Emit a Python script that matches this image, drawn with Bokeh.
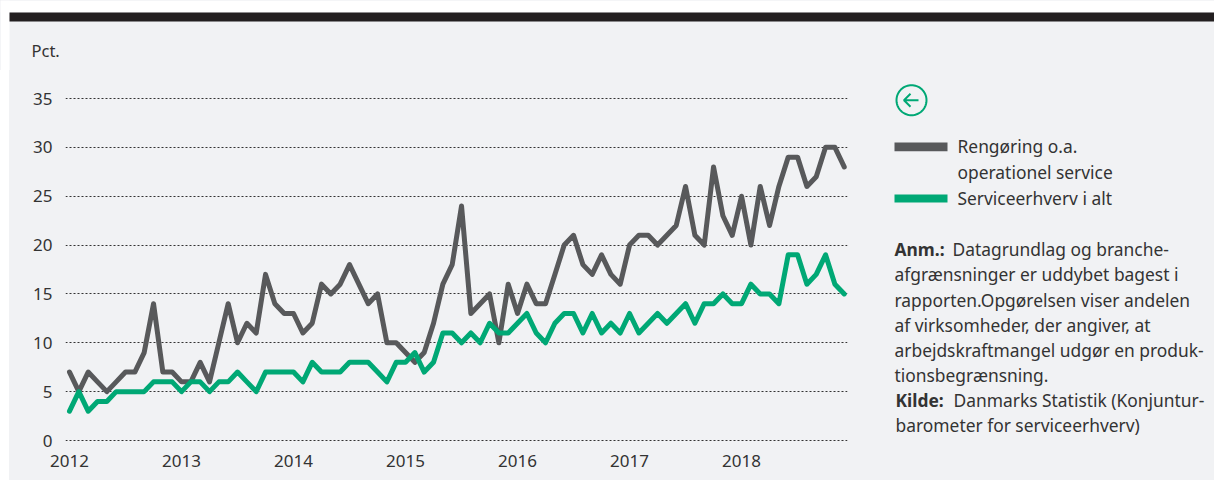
from math import cos, sin, pi
from bokeh.embed import file_html
from bokeh.resources import INLINE
from bokeh.plotting import figure
from bokeh.layouts import column, row
from bokeh.models import BoxAnnotation, Label, PolyAnnotation, FixedTicker, Range1d, Spacer

years = ["2012", "2013", "2014", "2015", "2016", "2017", "2018"]
rengoring = [7,5,7,6,5,6,7,7,9,14,7,7,6,6,8,6,10,14,10,12,11,17,14,13,13,11,12,16,15,16,18,16,14,15,10,10,9,8,9,
             12,16,18,24,13,14,15,10,16,13,16,14,14,17,20,21,18,17,19,17,16,20,21,21,20,21,22,26,21,20,28,23,21,25,20,26,22,26,29,29,26,27,30,30,28]
service = [3,5,3,4,4,5,5,5,5,6,6,6,5,6,6,5,6,6,7,6,5,7,7,7,7,6,8,7,7,7,8,8,8,7,6,8,8,9,7,
           8,11,11,10,11,10,12,11,11,12,13,11,10,12,13,13,11,13,11,12,11,13,11,12,13,12,13,14,12,14,14,15,14,14,16,15,15,14,19,19,16,17,19,16,15]
y_ticks = [0, 5, 10, 15, 20, 25, 30, 35]
names = ["Rengøring o.a.", "operationel service", "Serviceerhverv i alt"]

GREY, GREEN, PANEL, BAR, TEXT = "#58595B", "#00A875", "#F1F2F4", "#231F20", "#333333"
FONT = "Noto Sans"
BODY = "17.4px"

def canvas_fig(x0, y0, w, h, bg=PANEL):
    f = figure(width=w, height=h, output_backend="svg", toolbar_location=None,
               x_range=Range1d(x0, x0+w), y_range=Range1d(y0+h, y0), x_axis_type=None, y_axis_type=None,
               min_border=0, background_fill_color=bg, border_fill_color=bg, outline_line_color=None)
    f.grid.visible = False
    return f

def box(f, l, t, r, b, color):
    f.add_layout(BoxAnnotation(left=l, right=r, top=t, bottom=b, fill_color=color, fill_alpha=1,
                               line_color=None, editable=False))

def text(f, x, y, s, size=BODY, bold=False):
    f.add_layout(Label(x=x, y=y - 1, text=s, text_font=FONT, text_font_size=size,
                       text_font_style="bold" if bold else "normal",
                       text_color=TEXT, text_baseline="middle", text_align="left"))

# header
head = canvas_fig(0, 0, 1214, 70)
box(head, 0, 0, 1214, 12, "white")
box(head, 0, 0, 9, 70, "white")
box(head, 9, 12, 1214, 21, BAR)
text(head, 31, 51, "Pct.", size="16.5px")

# chart
px = 3 / ((440 - 98) / 35)
p = figure(width=846, height=410, output_backend="svg", toolbar_location=None,
           x_range=Range1d(-0.43, 83.35), y_range=Range1d(-px, 35 + px),
           min_border_left=56, min_border_right=8, min_border_top=25, min_border_bottom=37,
           background_fill_color=PANEL, border_fill_color=PANEL, outline_line_color=None)
p.xgrid.visible = False
p.ygrid.ticker = FixedTicker(ticks=y_ticks)
p.ygrid.grid_line_color = "#333333"
p.ygrid.grid_line_dash = "2 2"
p.ygrid.grid_line_width = 1
p.yaxis.ticker = FixedTicker(ticks=y_ticks)
p.xaxis.ticker = FixedTicker(ticks=[12*i for i in range(len(years))])
p.xaxis.major_label_overrides = {12*i: y for i, y in enumerate(years)}
for ax in (p.xaxis[0], p.yaxis[0]):
    ax.axis_line_color = None
    ax.major_tick_line_color = None
    ax.minor_tick_line_color = None
    ax.major_tick_out = 0
    ax.major_tick_in = 0
    ax.major_label_text_font = FONT
    ax.major_label_text_font_size = "17px"
    ax.major_label_text_color = TEXT
p.yaxis.major_label_standoff = 13
p.xaxis.major_label_standoff = 11

months = list(range(len(rengoring)))
for vals, col in ((rengoring, GREY), (service, GREEN)):
    p.line(months, vals, line_color=col, line_width=5, line_join="round", line_cap="round")

# side panel
side = canvas_fig(855, 70, 359, 410)
cx, cy, r = 911, 99.7, 15
n = 72
side.add_layout(PolyAnnotation(xs=[cx+r*cos(2*pi*i/n) for i in range(n)], ys=[cy+r*sin(2*pi*i/n) for i in range(n)],
                               fill_alpha=0, line_color=GREEN, line_alpha=1, line_width=2, editable=False))
side.add_layout(PolyAnnotation(xs=[cx+7, cx-7.5, cx-1, cx-7.5, cx-1, cx-7.5],
                               ys=[cy, cy, cy-6.5, cy, cy+6.5, cy],
                               fill_alpha=0, line_color=GREEN, line_alpha=1, line_width=2, editable=False))
box(side, 894, 142, 947, 150.7, GREY)
box(side, 894, 194, 947, 202, GREEN)
text(side, 957, 146, names[0])
text(side, 957, 172.5, names[1])
text(side, 957, 198, names[2])
text(side, 894, 249, "Anm.:", bold=True)
text(side, 952, 249, "Datagrundlag og branche-")
text(side, 894, 274, "afgrænsninger er uddybet bagest i")
text(side, 894, 300, "rapporten.Opgørelsen viser andelen")
text(side, 894, 325, "af virksomheder, der angiver, at")
text(side, 894, 350, "arbejdskraftmangel udgør en produk-")
text(side, 894, 375, "tionsbegrænsning.")
text(side, 895, 400, "Kilde:", bold=True)
text(side, 953, 400, "Danmarks Statistik (Konjuntur-")
text(side, 895, 425, "barometer for serviceerhverv)")

left = column(row(Spacer(width=9, height=410, styles={"background-color": "white"}), p, spacing=0))
right = column(side)
layout = column(head, row(left, right, spacing=0), spacing=0, styles={"background-color": PANEL})
open("out.html", "w").write(file_html(layout, INLINE))
